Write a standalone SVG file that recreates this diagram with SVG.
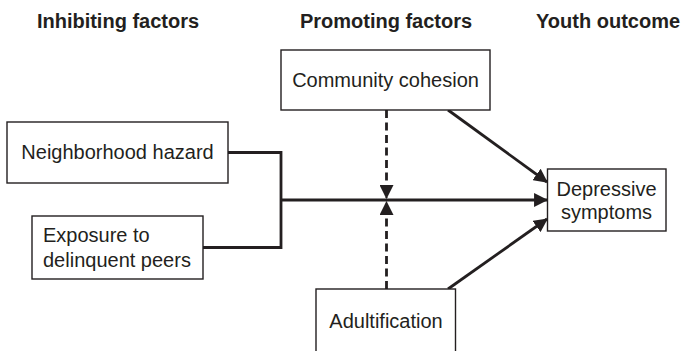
<svg xmlns="http://www.w3.org/2000/svg" width="681" height="351" viewBox="0 0 681 351">
<style>
.box{fill:#fff;stroke:#231f20;stroke-width:1.4}
.t{font-family:"Liberation Sans",Arial,sans-serif;font-size:20px;fill:#231f20}
.h{font-family:"Liberation Sans",Arial,sans-serif;font-size:20px;font-weight:bold;fill:#231f20}
.c{fill:none;stroke:#231f20;stroke-width:2.8}
.d{stroke-dasharray:8 4.5}
</style>
<defs>
<marker id="ah" markerUnits="userSpaceOnUse" markerWidth="14" markerHeight="14" viewBox="0 0 13 13" refX="12" refY="6.5" orient="auto">
<path d="M0,0 L13,6.5 L0,13 z" fill="#231f20"/>
</marker>
</defs>
<rect width="681" height="351" fill="#fff"/>
<g id="headers">
<text class="h" x="118" y="28" text-anchor="middle">Inhibiting factors</text>
<text class="h" x="386" y="28" text-anchor="middle">Promoting factors</text>
<text class="h" x="536" y="28">Youth outcome</text>
</g>
<g id="connectors">
<polyline class="c" points="228,152.5 281,152.5 281,247.5 203,247.5"/>
<line class="c" x1="281" y1="200" x2="547" y2="200" marker-end="url(#ah)"/>
<line class="c d" x1="386.5" y1="110" x2="386.5" y2="198" marker-end="url(#ah)"/>
<line class="c d" x1="386.5" y1="289" x2="386.5" y2="202" marker-end="url(#ah)"/>
<line class="c" x1="448" y1="110" x2="547" y2="182" marker-end="url(#ah)"/>
<line class="c" x1="448" y1="289" x2="547" y2="219" marker-end="url(#ah)"/>
</g>
<g id="community">
<rect class="box" x="281" y="50" width="209" height="60"/>
<text class="t" x="385.5" y="87" text-anchor="middle">Community cohesion</text>
</g>
<g id="neighborhood">
<rect class="box" x="7" y="122" width="221" height="61"/>
<text class="t" x="117.5" y="159" text-anchor="middle">Neighborhood hazard</text>
</g>
<g id="exposure">
<rect class="box" x="32" y="216" width="171" height="63"/>
<text class="t" x="43" y="242">Exposure to</text>
<text class="t" x="43" y="267">delinquent peers</text>
</g>
<g id="depressive">
<rect class="box" x="547.5" y="169" width="118.5" height="62"/>
<text class="t" x="606.5" y="196" text-anchor="middle">Depressive</text>
<text class="t" x="606.5" y="219" text-anchor="middle">symptoms</text>
</g>
<g id="adultification">
<rect class="box" x="316" y="289" width="139.5" height="80"/>
<text class="t" x="386" y="328" text-anchor="middle">Adultification</text>
</g>
</svg>
